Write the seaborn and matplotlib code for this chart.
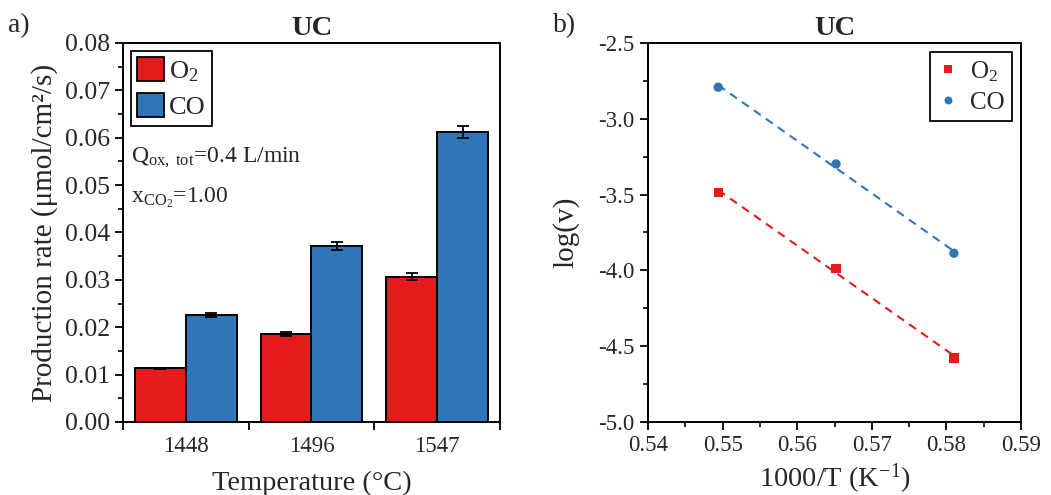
import numpy as np
import pandas as pd
import seaborn as sns
import matplotlib.pyplot as plt
from matplotlib.ticker import MultipleLocator, FixedLocator, NullFormatter

# data
temps = ['1448', '1496', '1547']
o2_rate = [0.0113, 0.0186, 0.0307]
co_rate = [0.0226, 0.0372, 0.0612]
o2_err = [0.0002, 0.0004, 0.0007]
co_err = [0.0004, 0.0008, 0.0012]

inv_T = [0.5494, 0.5652, 0.5810]
o2_logv = [-3.485, -3.987, -4.577]
co_logv = [-2.792, -3.298, -3.887]

RED = '#E41A1C'
BLUE = '#2F75B8'

sns.set_theme(style='ticks')
plt.rcParams['font.family'] = ['Liberation Serif', 'DejaVu Serif']
plt.rcParams['mathtext.fontset'] = 'custom'
plt.rcParams['mathtext.rm'] = 'Liberation Serif'
plt.rcParams['mathtext.it'] = 'Liberation Serif:italic'
plt.rcParams['axes.linewidth'] = 1.4
plt.rcParams['axes.edgecolor'] = 'black'
plt.rcParams['axes.unicode_minus'] = False

fig = plt.figure(figsize=(10.51, 4.95), dpi=100)
ax1 = fig.add_axes([0.117, 0.1475, 0.3587, 0.7657])
ax2 = fig.add_axes([0.6166, 0.1475, 0.3549, 0.7657])

# ---- a) bar chart
df = pd.DataFrame({
    'Temperature': temps * 2,
    'rate': o2_rate + co_rate,
    'gas': ['O$_2$'] * 3 + ['CO'] * 3,
})
sns.barplot(data=df, x='Temperature', y='rate', hue='gas', palette=[RED, BLUE],
            width=0.81, edgecolor='black', linewidth=1.4, errorbar=None,
            saturation=1, ax=ax1)

# error bars at the bar centres
bars = [p for p in ax1.patches if p.get_height() > 0][:6]
xs = [b.get_x() + b.get_width() / 2 for b in bars]
ys = [b.get_height() for b in bars]
ax1.errorbar(xs, ys, yerr=o2_err + co_err, fmt='none', ecolor='black',
             elinewidth=1.3, capsize=4.5, capthick=1.3, zorder=5)

ax1.set_xlim(-0.5, 2.5)
ax1.set_ylim(0, 0.08)
ax1.yaxis.set_major_locator(MultipleLocator(0.01))
ax1.yaxis.set_minor_locator(MultipleLocator(0.005))
ax1.yaxis.set_major_formatter(plt.FuncFormatter(lambda v, p: f'{v:.2f}'))
# tick marks between groups, labels at group centres
ax1.xaxis.set_major_locator(FixedLocator([-0.5, 0.5, 1.5, 2.5]))
ax1.xaxis.set_major_formatter(NullFormatter())
ax1.xaxis.set_minor_locator(FixedLocator([0, 1, 2]))
ax1.set_xticklabels(temps, minor=True)
ax1.tick_params(axis='x', which='minor', length=0, labelsize=16.5, pad=10)
ax1.tick_params(axis='both', which='major', length=6, width=1.3, labelsize=18.5,
                direction='out', color='black')
ax1.tick_params(axis='y', which='minor', length=3.5, width=1.2, color='black')
ax1.set_xlabel('Temperature (°C)', fontsize=20.5, labelpad=10)
ax1.set_ylabel('Production rate (μmol/cm²/s)', fontsize=21, labelpad=5)
ax1.set_title('UC', fontsize=20.5, fontweight='bold', pad=6)

leg1 = ax1.legend(loc='upper left', fontsize=19, frameon=True, fancybox=False,
                  edgecolor='black', framealpha=1, handlelength=1.0, handleheight=1.0,
                  handletextpad=0.2, borderpad=0.25, labelspacing=0.35,
                  borderaxespad=0.3)
leg1.get_frame().set_linewidth(1.3)
for h in leg1.get_patches():
    h.set_edgecolor('black')
    h.set_linewidth(1.3)

ax1.text(0.022, 0.685, 'Q$_{\\mathrm{ox,\\ tot}}$=0.4 L/min', transform=ax1.transAxes,
         fontsize=17)
ax1.text(0.022, 0.58, 'x$_{\\mathrm{CO}_2}$=1.00', transform=ax1.transAxes,
         fontsize=17)

# ---- b) Arrhenius-type plot
ddf = pd.DataFrame({
    'invT': inv_T * 2,
    'logv': o2_logv + co_logv,
    'gas': ['O$_2$'] * 3 + ['CO'] * 3,
})
for gas, col in [('O$_2$', RED), ('CO', BLUE)]:
    sub = ddf[ddf['gas'] == gas]
    sns.regplot(data=sub, x='invT', y='logv', scatter=False, ci=None, ax=ax2,
                line_kws={'color': col, 'linestyle': (0, (4, 3)), 'linewidth': 1.5})
sns.scatterplot(data=ddf, x='invT', y='logv', hue='gas', style='gas',
                markers={'O$_2$': 's', 'CO': 'o'}, palette=[RED, BLUE], s=45,
                linewidth=0, ax=ax2, zorder=4)

ax2.set_xlim(0.54, 0.59)
ax2.set_ylim(-5.0, -2.5)
ax2.xaxis.set_major_locator(MultipleLocator(0.01))
ax2.xaxis.set_minor_locator(MultipleLocator(0.005))
ax2.yaxis.set_major_locator(MultipleLocator(0.5))
ax2.yaxis.set_minor_locator(MultipleLocator(0.25))
ax2.xaxis.set_major_formatter(plt.FuncFormatter(lambda v, p: f'{v:.2f}'))
ax2.yaxis.set_major_formatter(plt.FuncFormatter(lambda v, p: f'{v:.1f}'))
ax2.tick_params(axis='both', which='major', length=6, width=1.3, labelsize=16.5,
                direction='out', color='black')
ax2.tick_params(axis='both', which='minor', length=3.5, width=1.2, color='black')
ax2.set_xlabel('1000/T (K$^{-1}$)', fontsize=20.5, labelpad=4)
ax2.set_ylabel('log(v)', fontsize=21, labelpad=14)
ax2.set_title('UC', fontsize=20.5, fontweight='bold', pad=6)

leg2 = ax2.legend(loc='upper right', fontsize=18, frameon=True, fancybox=False,
                  edgecolor='black', framealpha=1, title=None, handlelength=0.8,
                  handletextpad=0.5, borderpad=0.3, labelspacing=0.3,
                  borderaxespad=0.35, markerscale=0.85)
leg2.get_frame().set_linewidth(1.3)

fig.text(0.008, 0.935, 'a)', fontsize=20)
fig.text(0.526, 0.935, 'b)', fontsize=20)

fig.savefig('out.png', dpi=100, facecolor='white')
